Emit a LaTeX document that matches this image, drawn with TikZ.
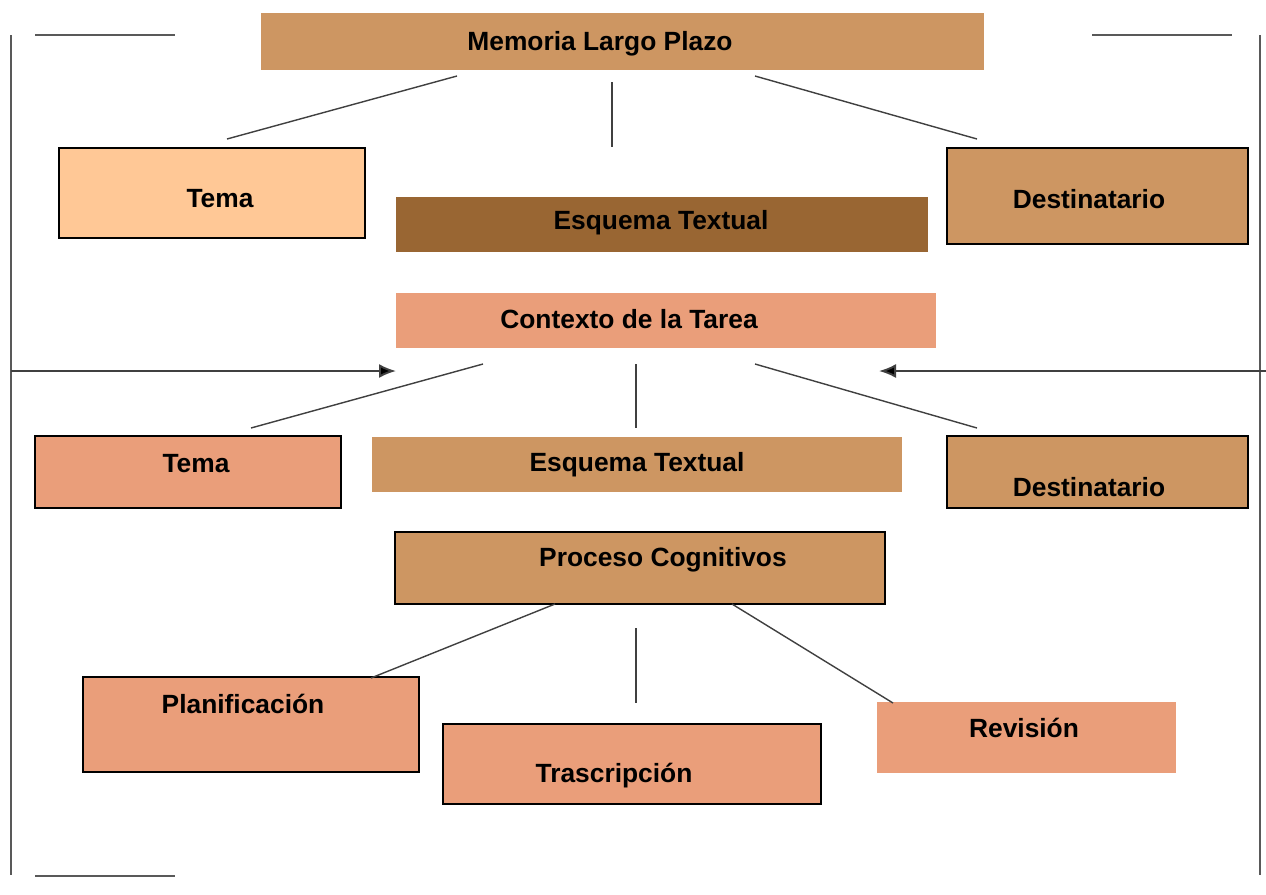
\documentclass[tikz,border=0pt]{standalone}
\usepackage{fontspec}
\setmainfont{Liberation Sans}
\usetikzlibrary{arrows.meta}
\definecolor{ocre}{HTML}{CD9662}
\definecolor{melocoton}{HTML}{FFC896}
\definecolor{marron}{HTML}{996633}
\definecolor{salmon}{HTML}{EA9E7A}
\definecolor{trazo}{HTML}{404040}
\begin{document}
\begin{tikzpicture}[x=0.2mm, y=-0.2mm,
  caja/.style={rectangle, inner sep=0pt, outer sep=0pt},
  borde/.style={caja, draw=black, line width=0.9pt},
  texto/.style={font=\fontsize{15}{17}\selectfont\bfseries, inner sep=0pt, yshift=-2pt},
  enlace/.style={draw=trazo, line width=0.8pt},
  marco/.style={draw=gray!70!black, line width=1.4pt},
  flecha/.style={draw=trazo, line width=1.1pt, -{Latex[length=3.4mm, width=2.8mm, fill=black]}}]
\useasboundingbox (0,0) rectangle (1266,894);
% marco lateral
\draw[marco] (11,35) -- (11,875);
\draw[marco] (1260,35) -- (1260,875);
\draw[marco] (35,35) -- (175,35);
\draw[marco] (1092,35) -- (1232,35);
\draw[marco] (35,876) -- (175,876);
% nivel 1
\node[caja, fill=ocre, minimum width=144.6mm, minimum height=11.4mm] (memoria) at (622.5,41.5) {};
\node[texto] (memoria-t) at (600,40) {Memoria Largo Plazo};
\node[borde, fill=melocoton, minimum width=61.2mm, minimum height=18mm] (tema1) at (212,193) {};
\node[texto] (tema1-t) at (220,195) {Tema};
\node[caja, fill=marron, minimum width=106.4mm, minimum height=11mm] (esquema1) at (662,224.5) {};
\node[texto] (esquema1-t) at (661,219) {Esquema Textual};
\node[borde, fill=ocre, minimum width=60.2mm, minimum height=19.2mm] (dest1) at (1097.5,196) {};
\node[texto] (dest1-t) at (1089,196) {Destinatario};
% nivel 2
\node[caja, fill=salmon, minimum width=108mm, minimum height=11mm] (contexto) at (666,320.5) {};
\node[texto] (contexto-t) at (629,316) {Contexto de la Tarea};
\node[borde, fill=salmon, minimum width=61.2mm, minimum height=14.4mm] (tema2) at (188,472) {};
\node[texto] (tema2-t) at (196,460) {Tema};
\node[caja, fill=ocre, minimum width=106mm, minimum height=11mm] (esquema2) at (637,464.5) {};
\node[texto] (esquema2-t) at (637,461) {Esquema Textual};
\node[borde, fill=ocre, minimum width=60.2mm, minimum height=14.4mm] (dest2) at (1097.5,472) {};
\node[texto] (dest2-t) at (1089,484) {Destinatario};
% nivel 3
\node[borde, fill=ocre, minimum width=98mm, minimum height=14.4mm] (proceso) at (640,568) {};
\node[texto] (proceso-t) at (663,556) {Proceso Cognitivos};
\node[borde, fill=salmon, minimum width=67.2mm, minimum height=19mm] (plan) at (251,724.5) {};
\node[texto] (plan-t) at (243,700) {Planificación};
\node[borde, fill=salmon, minimum width=75.6mm, minimum height=16mm] (tras) at (632,764) {};
\node[texto] (tras-t) at (614,772) {Trascripción};
\node[caja, fill=salmon, minimum width=59.8mm, minimum height=14.2mm] (rev) at (1026.5,737.5) {};
\node[texto] (rev-t) at (1024,724) {Revisión};
% puntos de enlace
\coordinate (m1) at (457,76);   \coordinate (t1) at (227,139);
\coordinate (m2) at (612,82);   \coordinate (e1) at (612,147);
\coordinate (m3) at (755,76);   \coordinate (d1) at (977,139);
\coordinate (c1) at (483,364);  \coordinate (t2) at (251,428);
\coordinate (c2) at (636,364);  \coordinate (e2) at (636,428);
\coordinate (c3) at (755,364);  \coordinate (d2) at (977,428);
\coordinate (p1) at (555,604);  \coordinate (pl) at (371,678);
\coordinate (p2) at (636,628);  \coordinate (tr) at (636,703);
\coordinate (p3) at (732,604);  \coordinate (rv) at (893,703);
\coordinate (izq) at (11,371);  \coordinate (izq-f) at (396,371);
\coordinate (der) at (1266,371); \coordinate (der-f) at (879,371);
% enlaces
\draw[enlace] (m1) -- (t1);
\draw[enlace] (m2) -- (e1);
\draw[enlace] (m3) -- (d1);
\draw[enlace] (c1) -- (t2);
\draw[enlace] (c2) -- (e2);
\draw[enlace] (c3) -- (d2);
\draw[enlace] (p1) -- (pl);
\draw[enlace] (p2) -- (tr);
\draw[enlace] (p3) -- (rv);
\draw[flecha] (izq) -- (izq-f);
\draw[flecha] (der) -- (der-f);
\end{tikzpicture}
\end{document}
